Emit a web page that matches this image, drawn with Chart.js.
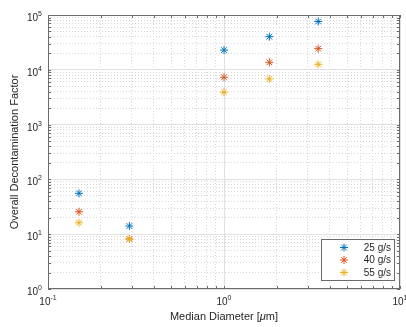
<!DOCTYPE html>
<html>
<head>
<meta charset="utf-8">
<script src="https://cdn.jsdelivr.net/npm/chart.js@4/dist/chart.umd.min.js"></script>
<style>
  html, body { margin: 0; padding: 0; background: #fff; }
  #c { display: block; }
</style>
</head>
<body>
<canvas id="c" width="406" height="327"></canvas>
<script>
/* Overall DF vs median diameter, log-log */
const diameters = [0.15, 0.29, 1.0, 1.81, 3.43];
const df25 = [55.7, 14.1, 22900, 40200, 76000];
const df40 = [25.7, 8.2, 7300, 13700, 24300];
const df55 = [16.2, 8.2, 3890, 6800, 12600];
const seriesNames = ['25 g/s', '40 g/s', '55 g/s'];
const seriesColors = ['#0072BD', '#D95319', '#EDB120'];
const xDecades = [-1, 0, 1];
const yDecades = [0, 1, 2, 3, 4, 5];

const FONT = '"Liberation Sans", Arial, Helvetica, sans-serif';
const AXIS = '#6b6b6b';
const TEXT = '#262626';

function decadeTicks(decs) {
  const out = [];
  decs.forEach((d, i) => {
    const base = Math.pow(10, d);
    const last = i === decs.length - 1;
    for (let k = 1; k <= (last ? 1 : 9); k++) out.push({ value: +(k * base).toPrecision(3) });
  });
  return out;
}
const isMajor = (v) => Math.abs(Math.log10(v) - Math.round(Math.log10(v))) < 1e-6;

const frame = {
  id: 'frame',
  afterDraw(chart) {
    const { ctx, chartArea: a, scales: { x, y } } = chart;
    ctx.save();
    // box
    ctx.strokeStyle = AXIS;
    ctx.lineWidth = 1;
    ctx.strokeRect(Math.round(a.left) + 0.5, Math.round(a.top) + 0.5,
      Math.round(a.right - a.left) - 1, Math.round(a.bottom - a.top) - 1);
    // inward ticks, all four sides
    ctx.beginPath();
    const tl = 3;
    x.ticks.forEach((t) => {
      const px = Math.round(x.getPixelForValue(t.value)) + 0.5;
      ctx.moveTo(px, a.bottom); ctx.lineTo(px, a.bottom - tl);
      ctx.moveTo(px, a.top); ctx.lineTo(px, a.top + tl);
    });
    y.ticks.forEach((t) => {
      const py = Math.round(y.getPixelForValue(t.value)) + 0.5;
      ctx.moveTo(a.left, py); ctx.lineTo(a.left + tl, py);
      ctx.moveTo(a.right, py); ctx.lineTo(a.right - tl, py);
    });
    ctx.stroke();

    // tick labels: 10 with raised exponent
    ctx.fillStyle = TEXT;
    ctx.textBaseline = 'alphabetic';
    const baseFont = '10px ' + FONT, supFont = '7px ' + FONT;
    xDecades.forEach((d) => {
      const px = x.getPixelForValue(Math.pow(10, d));
      ctx.font = baseFont; const wb = ctx.measureText('10').width;
      ctx.font = supFont; const ws = ctx.measureText(String(d)).width;
      const left = px - (wb + ws) / 2;
      ctx.font = baseFont; ctx.textAlign = 'left';
      ctx.fillText('10', left, a.bottom + 16);
      ctx.font = supFont;
      ctx.fillText(String(d), left + wb, a.bottom + 11);
    });
    yDecades.forEach((d) => {
      const py = y.getPixelForValue(Math.pow(10, d));
      const right = a.left - 6;
      ctx.font = supFont; const ws = ctx.measureText(String(d)).width;
      ctx.textAlign = 'right';
      ctx.fillText(String(d), right, py + 1);
      ctx.font = baseFont;
      ctx.fillText('10', right - ws, py + 6);
    });

    // x title with italic mu
    const parts = [['Median Diameter [', ''], ['\u03BC', 'italic '], ['m]', '']];
    ctx.textAlign = 'left';
    ctx.textBaseline = 'middle';
    let total = 0;
    parts.forEach((p) => { ctx.font = p[1] + '11px ' + FONT; total += ctx.measureText(p[0]).width; });
    let tx = (a.left + a.right) / 2 - total / 2;
    parts.forEach((p) => {
      ctx.font = p[1] + '11px ' + FONT;
      ctx.fillText(p[0], tx, 316.5);
      tx += ctx.measureText(p[0]).width;
    });

    // legend box, inside lower right
    const lw = 73, lh = 41;
    const lx = Math.round(a.right) - 6 - lw, ly = Math.round(a.bottom) - 9 - lh;
    ctx.fillStyle = '#fff';
    ctx.fillRect(lx, ly, lw, lh);
    ctx.strokeStyle = AXIS;
    ctx.strokeRect(lx + 0.5, ly + 0.5, lw, lh);
    ctx.font = '10px ' + FONT;
    ctx.textAlign = 'right';
    ctx.textBaseline = 'middle';
    seriesNames.forEach((name, i) => {
      const cy = ly + 8.5 + i * 12.5;
      const cx = lx + 23;
      ctx.strokeStyle = seriesColors[i];
      ctx.lineWidth = 1;
      ctx.beginPath();
      const r = 4, q = r * Math.SQRT1_2;
      ctx.moveTo(cx - r, cy); ctx.lineTo(cx + r, cy);
      ctx.moveTo(cx, cy - r); ctx.lineTo(cx, cy + r);
      ctx.moveTo(cx - q, cy - q); ctx.lineTo(cx + q, cy + q);
      ctx.moveTo(cx - q, cy + q); ctx.lineTo(cx + q, cy - q);
      ctx.stroke();
      ctx.fillStyle = TEXT;
      ctx.fillText(name, lx + lw - 3, cy + 0.5);
    });
    ctx.restore();
  }
};

// later series drawn on top, as in the original plot
function series(vals, i) {
  return {
    label: seriesNames[i],
    data: diameters.map((d, j) => ({ x: d, y: vals[j] })),
    order: seriesNames.length - 1 - i,
    pointStyle: 'star',
    pointRadius: 4,
    pointBorderWidth: 1,
    borderColor: seriesColors[i],
    backgroundColor: seriesColors[i],
    showLine: false,
  };
}

function logAxis(min, max, decs, title, size, pad) {
  return {
    type: 'logarithmic',
    min, max,
    afterBuildTicks: (sc) => { sc.ticks = decadeTicks(decs); },
    ticks: { display: false, autoSkip: false },
    grid: {
      drawTicks: false,
      lineWidth: 1,
      color: (c) => (c.tick && isMajor(c.tick.value)) ? '#e0e0e0' : '#d6d6d6',
    },
    border: {
      display: false,
      dash: (c) => (c.tick && isMajor(c.tick.value)) ? [] : [1, 2],
    },
    title: {
      display: !!title, text: title, color: TEXT,
      font: { family: FONT, size: 11 }, padding: pad,
    },
    afterFit: (sc) => { if (sc.isHorizontal()) sc.height = size; else sc.width = size; },
  };
}

new Chart(document.getElementById('c'), {
  type: 'scatter',
  data: { datasets: [series(df25, 0), series(df40, 1), series(df55, 2)] },
  options: {
    responsive: false,
    animation: false,
    devicePixelRatio: 1,
    layout: { padding: { top: 15, right: 6, left: 0, bottom: 0 } },
    plugins: { legend: { display: false }, tooltip: { enabled: false } },
    scales: {
      x: logAxis(0.1, 10, xDecades, '', 38, { top: 0, bottom: 4 }),
      y: logAxis(1, 100000, yDecades, 'Overall Decontamination Factor', 48, { top: 8, bottom: 0 }),
    },
  },
  plugins: [frame],
});
</script>
</body>
</html>
